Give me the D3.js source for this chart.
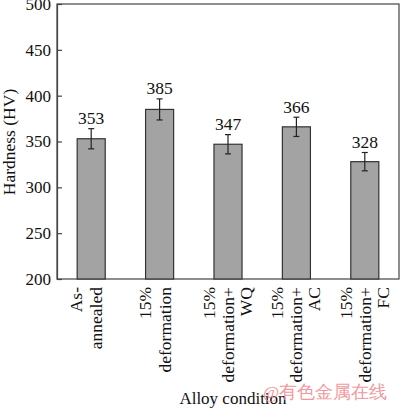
<!DOCTYPE html>
<html>
<head>
<meta charset="utf-8">
<script src="https://cdn.jsdelivr.net/npm/d3@7"></script>
<style>
  body { margin: 0; background: #fff; }
  svg { display: block; }
  text { font-family: "Liberation Serif", "Times New Roman", serif; fill: #111; }
</style>
</head>
<body>
<svg id="chart" width="400" height="409"></svg>
<script>
const categories = ["As-annealed", "15% deformation", "15% deformation+WQ", "15% deformation+AC", "15% deformation+FC"];
const categoryLines = [["As-", "annealed"], ["15%", "deformation"], ["15%", "deformation+", "WQ"], ["15%", "deformation+", "AC"], ["15%", "deformation+", "FC"]];
const hardness = [353, 385, 347, 366, 328];
const errors = [11, 11.5, 10.5, 10.5, 10];
const yTicks = [200, 250, 300, 350, 400, 450, 500];
const yTitle = "Hardness (HV)";
const xTitle = "Alloy condition";
const watermark = "@有色金属在线";

const svg = d3.select("#chart");
const mLeft = 57, mRight = 399, mTop = 4, mBottom = 279;

const x = d3.scaleBand().domain(categories).range([mLeft, mRight]).paddingInner(0.59).paddingOuter(0.295);
const y = d3.scaleLinear().domain([200, 500]).range([mBottom, mTop]);

// frame
svg.append("rect").attr("x", mLeft).attr("y", mTop).attr("width", mRight - mLeft).attr("height", mBottom - mTop)
  .attr("fill", "none").attr("stroke", "#444").attr("stroke-width", 1.2);

// y axis
const yAxis = svg.append("g").attr("transform", `translate(${mLeft},0)`)
  .call(d3.axisLeft(y).tickValues(yTicks).tickSizeInner(-5).tickSizeOuter(0).tickPadding(6));
yAxis.select(".domain").attr("stroke", "#444").attr("stroke-width", 1.2);
yAxis.selectAll(".tick line").attr("stroke", "#444").attr("stroke-width", 1.2);
yAxis.selectAll(".tick text").attr("font-size", 17).attr("font-family", "Liberation Serif").attr("fill", "#111").attr("x", -6);

// bars
svg.append("g").selectAll("rect").data(categories).join("rect")
  .attr("x", d => x(d)).attr("width", x.bandwidth())
  .attr("y", (d, i) => y(hardness[i])).attr("height", (d, i) => y(200) - y(hardness[i]))
  .attr("fill", "#a3a3a3").attr("stroke", "#333").attr("stroke-width", 1.2);

// error bars
const eb = svg.append("g").attr("stroke", "#222").attr("stroke-width", 1.2);
categories.forEach((c, i) => {
  const cx = x(c) + x.bandwidth() / 2;
  const y1 = y(hardness[i] + errors[i]), y2 = y(hardness[i] - errors[i]);
  eb.append("line").attr("x1", cx).attr("x2", cx).attr("y1", y1).attr("y2", y2);
  eb.append("line").attr("x1", cx - 3).attr("x2", cx + 3).attr("y1", y1).attr("y2", y1);
  eb.append("line").attr("x1", cx - 3).attr("x2", cx + 3).attr("y1", y2).attr("y2", y2);
});

// value labels
svg.append("g").selectAll("text").data(categories).join("text")
  .attr("x", d => x(d) + x.bandwidth() / 2)
  .attr("y", (d, i) => y(hardness[i] + errors[i]) - 4.5)
  .attr("text-anchor", "middle").attr("font-size", 17.5)
  .text((d, i) => hardness[i]);

// category labels (rotated)
const offsets2 = [-15, 5], offsets3 = [-19, 0, 18];
categories.forEach((c, i) => {
  const cx = x(c) + x.bandwidth() / 2;
  const lines = categoryLines[i];
  const offs = lines.length === 2 ? offsets2 : offsets3;
  lines.forEach((ln, j) => {
    svg.append("text")
      .attr("transform", `translate(${cx + offs[j]},287) rotate(-90)`)
      .attr("text-anchor", "end").attr("dominant-baseline", "central")
      .attr("font-size", 17.5).text(ln);
  });
});

// axis titles
svg.append("text").attr("transform", `translate(9,142) rotate(-90)`)
  .attr("text-anchor", "middle").attr("dominant-baseline", "central")
  .attr("font-size", 17.5).text(yTitle);
svg.append("text").attr("x", 233).attr("y", 404).attr("text-anchor", "middle")
  .attr("font-size", 17).text(xTitle);

// watermark
svg.append("text").attr("x", 263).attr("y", 398)
  .attr("font-family", "Noto Sans CJK SC").attr("font-size", 17.5)
  .style("fill", "#ef8f95").style("opacity", 0.9).text(watermark);
</script>
</body>
</html>
